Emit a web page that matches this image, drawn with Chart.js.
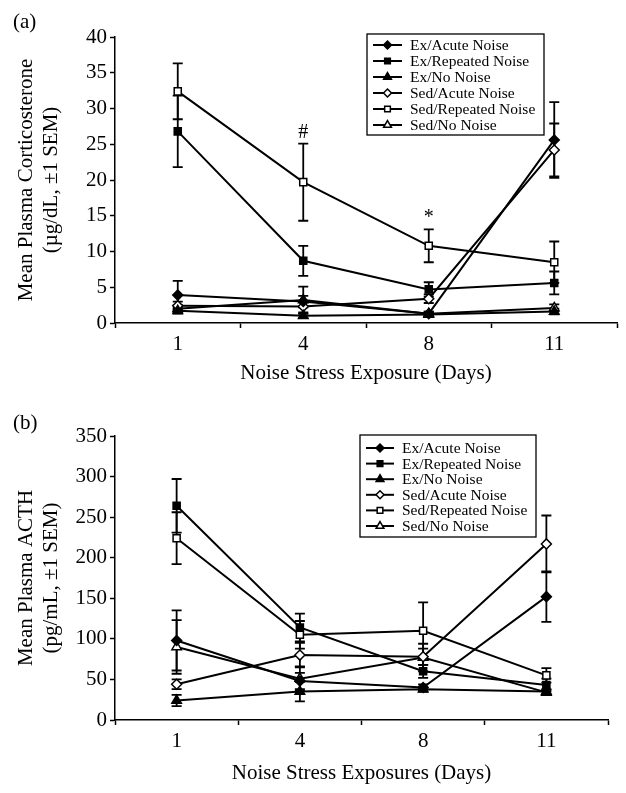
<!DOCTYPE html>
<html>
<head>
<meta charset="utf-8">
<script src="https://cdn.jsdelivr.net/npm/chart.js@4.4.1/dist/chart.umd.min.js"></script>
<style>
  html, body { margin: 0; padding: 0; background: #fff; }
  #wrap { position: relative; width: 626px; height: 793px; }
  .panel { position: absolute; left: 0; width: 626px; }
  .tag { position: absolute; left: 13px; font: 21px "Liberation Serif", "Times New Roman", serif; color: #000; line-height: 24px; }
</style>
</head>
<body>
<div id="wrap">
  <div class="panel" style="top:0;height:396px"><canvas id="chartA" width="626" height="396"></canvas></div>
  <div class="panel" style="top:396px;height:397px"><canvas id="chartB" width="626" height="397"></canvas></div>
  <div class="tag" style="top:9px">(a)</div>
  <div class="tag" style="top:410px">(b)</div>
</div>
<script>
const days = ['1', '4', '8', '11'];
const groups = ['Ex/Acute Noise', 'Ex/Repeated Noise', 'Ex/No Noise', 'Sed/Acute Noise', 'Sed/Repeated Noise', 'Sed/No Noise'];

// (a) corticosterone, ug/dL
const corticoExAcute = [3.9, 3.0, 1.3, 25.6];
const corticoExRepeated = [26.8, 8.7, 4.7, 5.6];
const corticoExNo = [1.7, 1.0, 1.2, 1.6];
const corticoSedAcute = [2.4, 2.3, 3.4, 24.2];
const corticoSedRepeated = [32.4, 19.7, 10.8, 8.5];
const corticoSedNo = [2.0, 3.2, 1.3, 2.1];

const corticoSemExAcute = [2.0, 0.8, 0.3, 5.3];
const corticoSemExRepeated = [5.0, 2.1, 1.0, 1.6];
const corticoSemExNo = [0.4, 0.3, 0.2, 0.4];
const corticoSemSedAcute = [0.6, 0.8, 0.6, 3.7];
const corticoSemSedRepeated = [3.9, 5.4, 2.3, 2.9];
const corticoSemSedNo = [0.5, 1.9, 0.3, 0.5];
const corticoMarks = ['', '#', '*', ''];

// (b) ACTH, pg/mL
const acthExAcute = [98, 48, 40, 152];
const acthExRepeated = [264, 114, 60, 43];
const acthExNo = [24, 35, 38, 35];
const acthSedAcute = [44, 80, 78, 217];
const acthSedRepeated = [224, 105, 110, 55];
const acthSedNo = [90, 51, 77, 34];

const acthSemExAcute = [37, 10, 4, 31];
const acthSemExRepeated = [33, 17, 8, 8];
const acthSemExNo = [7, 12, 3, 3];
const acthSemSedAcute = [6, 15, 10, 35];
const acthSemSedRepeated = [32, 17, 35, 9];
const acthSemSedNo = [33, 15, 17, 3];
const acthMarks = ['', '', '', ''];

const SERIF = '"Liberation Serif", "Times New Roman", serif';
const markerStyle = [
  { pointStyle: 'rectRot', fill: '#000', radius: 5 },
  { pointStyle: 'rect', fill: '#000', radius: 5 },
  { pointStyle: 'triangle', fill: '#000', radius: 5.5 },
  { pointStyle: 'rectRot', fill: '#fff', radius: 5 },
  { pointStyle: 'rect', fill: '#fff', radius: 5 },
  { pointStyle: 'triangle', fill: '#fff', radius: 5.5 }
];

function makeDatasets(series, sems) {
  return series.map((data, i) => ({
    label: groups[i],
    data,
    sem: sems[i],
    borderColor: '#000',
    borderWidth: 2,
    tension: 0,
    pointStyle: markerStyle[i].pointStyle,
    pointRadius: markerStyle[i].radius,
    pointHoverRadius: markerStyle[i].radius,
    pointBackgroundColor: markerStyle[i].fill,
    pointBorderColor: '#000',
    pointBorderWidth: 1.5
  }));
}

const errorBars = {
  id: 'errorBars',
  beforeDatasetsDraw(chart) {
    const { ctx, scales: { x, y } } = chart;
    ctx.save();
    ctx.strokeStyle = '#000';
    ctx.lineWidth = 1.8;
    chart.data.datasets.forEach(ds => {
      ds.data.forEach((v, i) => {
        const px = x.getPixelForValue(i);
        const top = y.getPixelForValue(v + ds.sem[i]);
        const bot = y.getPixelForValue(Math.max(0, v - ds.sem[i]));
        ctx.beginPath();
        ctx.moveTo(px, top); ctx.lineTo(px, bot);
        ctx.moveTo(px - 5, top); ctx.lineTo(px + 5, top);
        ctx.moveTo(px - 5, bot); ctx.lineTo(px + 5, bot);
        ctx.stroke();
      });
    });
    ctx.restore();
  }
};

// significance symbols sit just above the highest error bar of that day
const sigMarks = {
  id: 'sigMarks',
  afterDatasetsDraw(chart, args, opts) {
    const { ctx, scales: { x, y } } = chart;
    ctx.save();
    ctx.fillStyle = '#000';
    ctx.font = `20px ${SERIF}`;
    ctx.textAlign = 'center';
    ctx.textBaseline = 'alphabetic';
    (opts.marks || []).forEach((m, i) => {
      if (!m) return;
      const tops = chart.data.datasets.map(ds => ds.data[i] + ds.sem[i]);
      const py = y.getPixelForValue(Math.max(...tops));
      ctx.fillText(m, x.getPixelForValue(i), py - 6);
    });
    ctx.restore();
  }
};

const boxLegend = {
  id: 'boxLegend',
  afterDraw(chart, args, o) {
    const { ctx } = chart;
    ctx.save();
    ctx.fillStyle = '#fff';
    ctx.strokeStyle = '#000';
    ctx.lineWidth = 1.3;
    ctx.fillRect(o.left, o.top, o.width, o.height);
    ctx.strokeRect(o.left, o.top, o.width, o.height);
    ctx.font = `15.5px ${SERIF}`;
    ctx.textBaseline = 'middle';
    ctx.textAlign = 'left';
    chart.data.datasets.forEach((ds, i) => {
      const cy = o.top + o.firstRow + i * o.row;
      const x0 = o.left + o.padX;
      ctx.strokeStyle = '#000';
      ctx.lineWidth = 2;
      ctx.beginPath();
      ctx.moveTo(x0, cy); ctx.lineTo(x0 + o.lineLen, cy);
      ctx.stroke();
      ctx.fillStyle = ds.pointBackgroundColor;
      ctx.lineWidth = 1.5;
      Chart.helpers.drawPoint(ctx, { pointStyle: ds.pointStyle, radius: ds.pointRadius - 1, rotation: 0, borderWidth: 1.5 }, x0 + o.lineLen / 2, cy);
      ctx.fillStyle = '#000';
      ctx.fillText(ds.label, x0 + o.lineLen + o.gap, cy + 1);
    });
    ctx.restore();
  }
};

function buildChart(id, datasets, cfg) {
  return new Chart(document.getElementById(id), {
    type: 'line',
    data: { labels: days, datasets },
    plugins: [errorBars, sigMarks, boxLegend],
    options: {
      responsive: false,
      animation: false,
      events: [],
      layout: { padding: { top: cfg.padTop, right: cfg.padRight, bottom: 0, left: 0 } },
      plugins: {
        legend: { display: false },
        tooltip: { enabled: false },
        sigMarks: { marks: cfg.marks },
        boxLegend: cfg.legend
      },
      scales: {
        x: {
          offset: true,
          grid: { offset: true, drawOnChartArea: false, tickLength: 5, tickColor: '#000', tickWidth: 1.5 },
          border: { color: '#000', width: 1.5 },
          ticks: { color: '#000', font: { family: SERIF, size: 21 }, padding: 4 },
          title: { display: true, text: cfg.xTitle, color: '#000', font: { family: SERIF, size: 21, lineHeight: 1.2 }, padding: { top: 0, bottom: cfg.xTitlePad } },
          afterFit: s => { s.height = cfg.xHeight; }
        },
        y: {
          min: 0,
          max: cfg.yMax,
          grid: { drawOnChartArea: false, tickLength: 5, tickColor: '#000', tickWidth: 1.5 },
          border: { color: '#000', width: 1.5 },
          ticks: { stepSize: cfg.yStep, color: '#000', font: { family: SERIF, size: 21 }, padding: 3 },
          title: { display: true, text: cfg.yTitle, color: '#000', font: { family: SERIF, size: 21, lineHeight: 1.2 }, padding: { top: 14, bottom: 0 } },
          afterFit: s => { s.width = 115; }
        }
      }
    }
  });
}

buildChart('chartA',
  makeDatasets(
    [corticoExAcute, corticoExRepeated, corticoExNo, corticoSedAcute, corticoSedRepeated, corticoSedNo],
    [corticoSemExAcute, corticoSemExRepeated, corticoSemExNo, corticoSemSedAcute, corticoSemSedRepeated, corticoSemSedNo]),
  {
    padTop: 37, padRight: 9, xHeight: 73, xTitlePad: 10,
    yMax: 40, yStep: 5,
    xTitle: 'Noise Stress Exposure (Days)',
    yTitle: ['Mean Plasma Corticosterone', '(µg/dL, ±1 SEM)'],
    marks: corticoMarks,
    legend: { left: 367, top: 34, width: 177, height: 101, firstRow: 11, row: 16, padX: 6, lineLen: 29, gap: 8 }
  });

buildChart('chartB',
  makeDatasets(
    [acthExAcute, acthExRepeated, acthExNo, acthSedAcute, acthSedRepeated, acthSedNo],
    [acthSemExAcute, acthSemExRepeated, acthSemExNo, acthSemSedAcute, acthSemSedRepeated, acthSemSedNo]),
  {
    padTop: 40, padRight: 18, xHeight: 73, xTitlePad: 7,
    yMax: 350, yStep: 50,
    xTitle: 'Noise Stress Exposures (Days)',
    yTitle: ['Mean Plasma ACTH', '(pg/mL, ±1 SEM)'],
    marks: acthMarks,
    legend: { left: 360, top: 39, width: 176, height: 102, firstRow: 13, row: 15.6, padX: 6, lineLen: 28, gap: 8 }
  });
</script>
</body>
</html>
